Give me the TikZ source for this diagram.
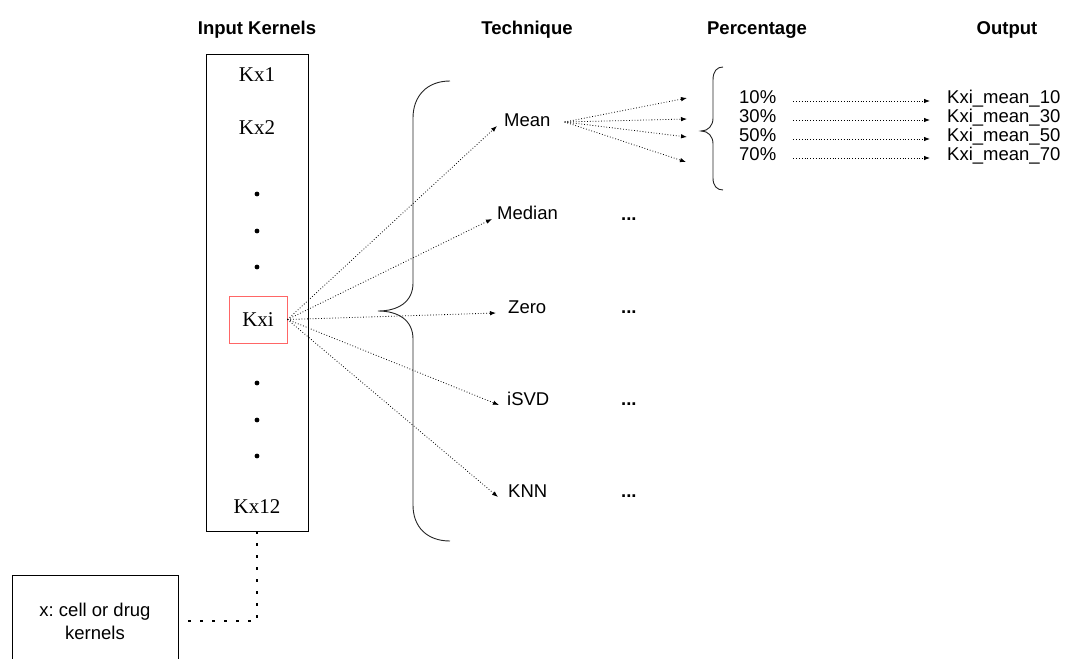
\documentclass[tikz,border=0pt]{standalone}
\usepackage{fontspec}
\setmainfont{Liberation Sans}
\newfontfamily\serifk{Liberation Serif}
\usetikzlibrary{arrows.meta}
\frenchspacing

\begin{document}
\begin{tikzpicture}[x=1pt,y=-1pt,
  every node/.style={inner sep=0, font=\fontsize{18.5}{23}\selectfont},
  head/.style={anchor=base, font=\fontsize{18.5}{23}\selectfont\bfseries},
  kern/.style={anchor=base, font=\serifk\fontsize{21}{24}\selectfont},
  lbl/.style={anchor=base west},
  more/.style={anchor=base west, font=\fontsize{18.5}{23}\selectfont\bfseries},
  fan/.style={line width=0.8pt, dash pattern=on 0.8pt off 2pt, -{Latex[length=6pt,width=4.5pt]}},
  bigdots/.style={line width=2.6pt, dash pattern=on 2.6pt off 9.4pt},
  brace/.style={line width=0.9pt, black!85}]
\useasboundingbox (0,0) rectangle (1067,658);

% column heads
\node[head] (hin) at (257,35) {Input Kernels};
\node[head] (htech) at (527,35) {Technique};
\node[head] (hpct) at (757,35) {Percentage};
\node[head] (hout) at (1007,35) {Output};

% input kernels
\node[draw, line width=0.9pt, minimum width=102pt, minimum height=477pt] (kbox) at (257,292.5) {};
\node[kern] (k1) at (257,82) {Kx1};
\node[kern] (k2) at (257,134) {Kx2};
\node[kern] (k12) at (257,513) {Kx12};
\node[draw=red!60, line width=1pt, minimum width=58pt, minimum height=47pt,
  font=\serifk\fontsize{21}{24}\selectfont] (kxi) at (258,319.5) {Kxi};
\foreach \y in {194,231,267,383,420,456}
  \fill (257,\y) circle (2.4pt);

\node[draw, line width=0.9pt, minimum width=166pt, minimum height=92pt, align=center] (xbox) at (95,621) {x: cell or drug\\kernels};
\draw[bigdots] (kbox.south) |- (xbox.east);

% techniques
\draw[brace] (450,81) .. controls (427,81) and (413,96) .. (413,118) -- (413,283)
  .. controls (413,302) and (398,311) .. (378,311)
  .. controls (398,311) and (413,320) .. (413,339) -- (413,505)
  .. controls (413,527) and (427,541) .. (450,541);
\node[lbl] (mean) at (504,126) {Mean};
\node[lbl] (median) at (497,219) {Median};
\node[lbl] (zero) at (508,313) {Zero};
\node[lbl] (isvd) at (507,405) {iSVD};
\node[lbl] (knn) at (508,497) {KNN};
\node[more] (median-more) at (621,220) {...};
\node[more] (zero-more) at (621,313) {...};
\node[more] (isvd-more) at (621,405) {...};
\node[more] (knn-more) at (621,497) {...};
\foreach \t/\s in {mean/7,median/5,zero/12,isvd/8,knn/10}
  \draw[fan] (kxi.east) -- ([xshift=-\s]\t.base west);

% percentages
\coordinate (t10) at (687,98);
\coordinate (t30) at (687,119);
\coordinate (t50) at (687,137);
\coordinate (t70) at (686,162);
\foreach \c in {t10,t30,t50,t70}
  \draw[fan] ([xshift=14,yshift=4]mean.base east) -- (\c);
\draw[brace] (723,67) .. controls (717,67) and (713,71) .. (713,80) -- (713,118)
  .. controls (713,126) and (708,131) .. (701,131)
  .. controls (708,131) and (713,136) .. (713,144) -- (713,178)
  .. controls (713,186) and (717,190) .. (723,190);
\foreach \p/\y in {10/103,30/122,50/141,70/160} {
  \node[lbl] (p\p) at (739,\y) {\p\%};
  \node[lbl] (o\p) at (947,\y) {Kxi\_mean\_\p};
  \draw[fan] ([xshift=17,yshift=2]p\p.base east) -- ([xshift=-17,yshift=2]o\p.base west);
}
\end{tikzpicture}
\end{document}
